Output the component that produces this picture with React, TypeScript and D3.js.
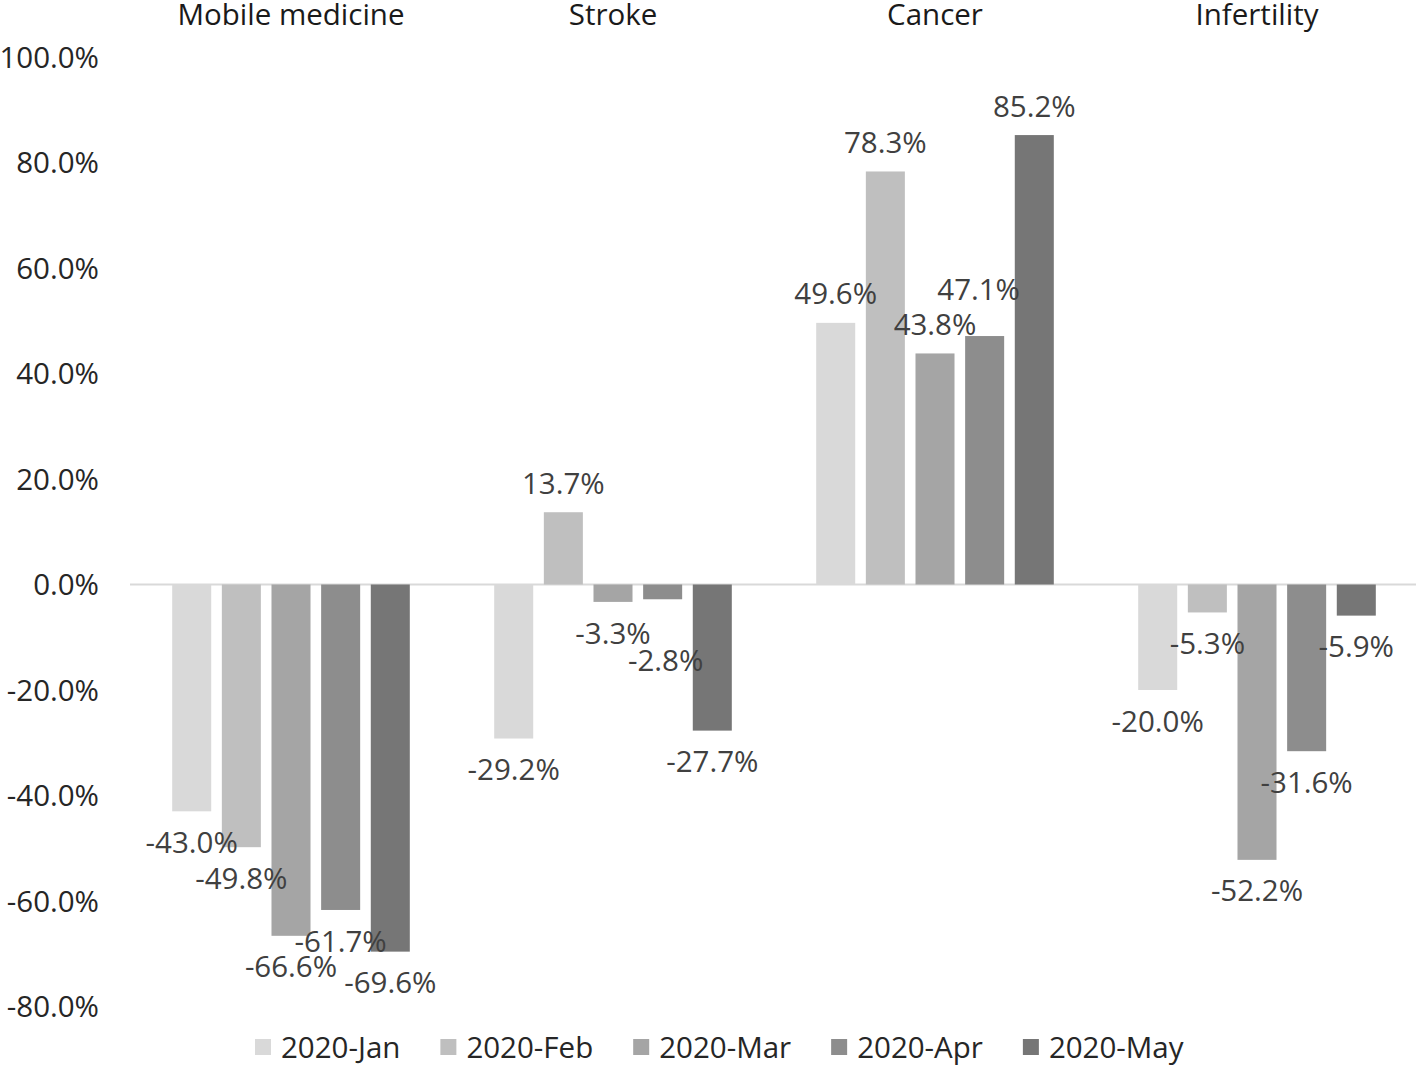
import React, { useEffect, useRef } from "react";
import * as d3 from "d3";

const categories = ["Mobile medicine", "Stroke", "Cancer", "Infertility"];
const months = ["2020-Jan", "2020-Feb", "2020-Mar", "2020-Apr", "2020-May"];
const janValues = [-43.0, -29.2, 49.6, -20.0];
const febValues = [-49.8, 13.7, 78.3, -5.3];
const marValues = [-66.6, -3.3, 43.8, -52.2];
const aprValues = [-61.7, -2.8, 47.1, -31.6];
const mayValues = [-69.6, -27.7, 85.2, -5.9];
const seriesValues = [janValues, febValues, marValues, aprValues, mayValues];
const yTicks = [-80, -60, -40, -20, 0, 20, 40, 60, 80, 100];
const colors = ["#d9d9d9", "#bfbfbf", "#a5a5a5", "#8d8d8d", "#767676"];

// label nudges for overlapping labels (series index, category index, dx, dy)
const labelNudges: [number, number, number, number][] = [
  [3, 1, 3, 30],
  [3, 2, -6, -18],
];

const W = 1418;
const H = 1066;
const FONT = "'Open Sans', sans-serif";
const FS = 29.5;

const fmt = (v: number) => d3.format(".1f")(v).replace("\u2212", "-") + "%";

export default function App() {
  const ref = useRef<SVGSVGElement | null>(null);

  useEffect(() => {
    const svg = d3.select(ref.current);
    svg.selectAll("*").remove();

    const y = d3.scaleLinear().domain([-80, 100]).range([1006.5, 57]);
    const x0 = d3.scaleBand<string>().domain(categories).range([130, 1418]).padding(0);
    const x1 = d3
      .scaleBand<string>()
      .domain(months)
      .range([0, x0.bandwidth()])
      .paddingInner(0.214)
      .paddingOuter(0.85);

    // y tick labels
    svg
      .append("g")
      .selectAll("text")
      .data(yTicks)
      .join("text")
      .attr("x", 99)
      .attr("y", (d) => y(d))
      .attr("dy", "0.36em")
      .attr("text-anchor", "end")
      .attr("font-family", FONT)
      .attr("font-size", FS)
      .attr("fill", "#262626")
      .text((d) => fmt(d));

    // zero line
    svg
      .append("line")
      .attr("x1", 130)
      .attr("x2", 1416)
      .attr("y1", y(0))
      .attr("y2", y(0))
      .attr("stroke", "#d9d9d9")
      .attr("stroke-width", 2);

    // category labels
    svg
      .append("g")
      .selectAll("text")
      .data(categories)
      .join("text")
      .attr("x", (d) => (x0(d) as number) + x0.bandwidth() / 2)
      .attr("y", 14)
      .attr("dy", "0.36em")
      .attr("text-anchor", "middle")
      .attr("font-family", FONT)
      .attr("font-size", FS)
      .attr("fill", "#1a1a1a")
      .text((d) => d);

    type Datum = { s: number; c: number; v: number };
    const data: Datum[] = [];
    seriesValues.forEach((arr, s) => arr.forEach((v, c) => data.push({ s, c, v })));

    const bx = (d: Datum) => (x0(categories[d.c]) as number) + (x1(months[d.s]) as number);

    svg
      .append("g")
      .selectAll("rect")
      .data(data)
      .join("rect")
      .attr("x", bx)
      .attr("width", x1.bandwidth())
      .attr("y", (d) => Math.min(y(d.v), y(0)))
      .attr("height", (d) => Math.abs(y(d.v) - y(0)))
      .attr("fill", (d) => colors[d.s]);

    const nudge = (d: Datum) => {
      const n = labelNudges.find((k) => k[0] === d.s && k[1] === d.c);
      return n ? [n[2], n[3]] : [0, 0];
    };

    svg
      .append("g")
      .selectAll("text")
      .data(data)
      .join("text")
      .attr("x", (d) => bx(d) + x1.bandwidth() / 2 + nudge(d)[0])
      .attr("y", (d) => y(d.v) + (d.v >= 0 ? -29 : 31) + nudge(d)[1])
      .attr("dy", "0.36em")
      .attr("text-anchor", "middle")
      .attr("font-family", FONT)
      .attr("font-size", FS)
      .attr("fill", "#404040")
      .text((d) => fmt(d.v));

    // legend
    const legend = svg.append("g");
    let lx = 255;
    months.forEach((m, i) => {
      legend
        .append("rect")
        .attr("x", lx)
        .attr("y", 1039)
        .attr("width", 16)
        .attr("height", 16)
        .attr("fill", colors[i]);
      const t = legend
        .append("text")
        .attr("x", lx + 26)
        .attr("y", 1047)
        .attr("dy", "0.36em")
        .attr("font-family", FONT)
        .attr("font-size", FS)
        .attr("fill", "#262626")
        .text(m);
      const w = (t.node() as SVGTextElement).getComputedTextLength();
      lx += 26 + w + 40;
    });
  }, []);

  return (
    <svg
      ref={ref}
      width={W}
      height={H}
      style={{ position: "absolute", left: 0, top: 0, background: "#fff" }}
    />
  );
}
